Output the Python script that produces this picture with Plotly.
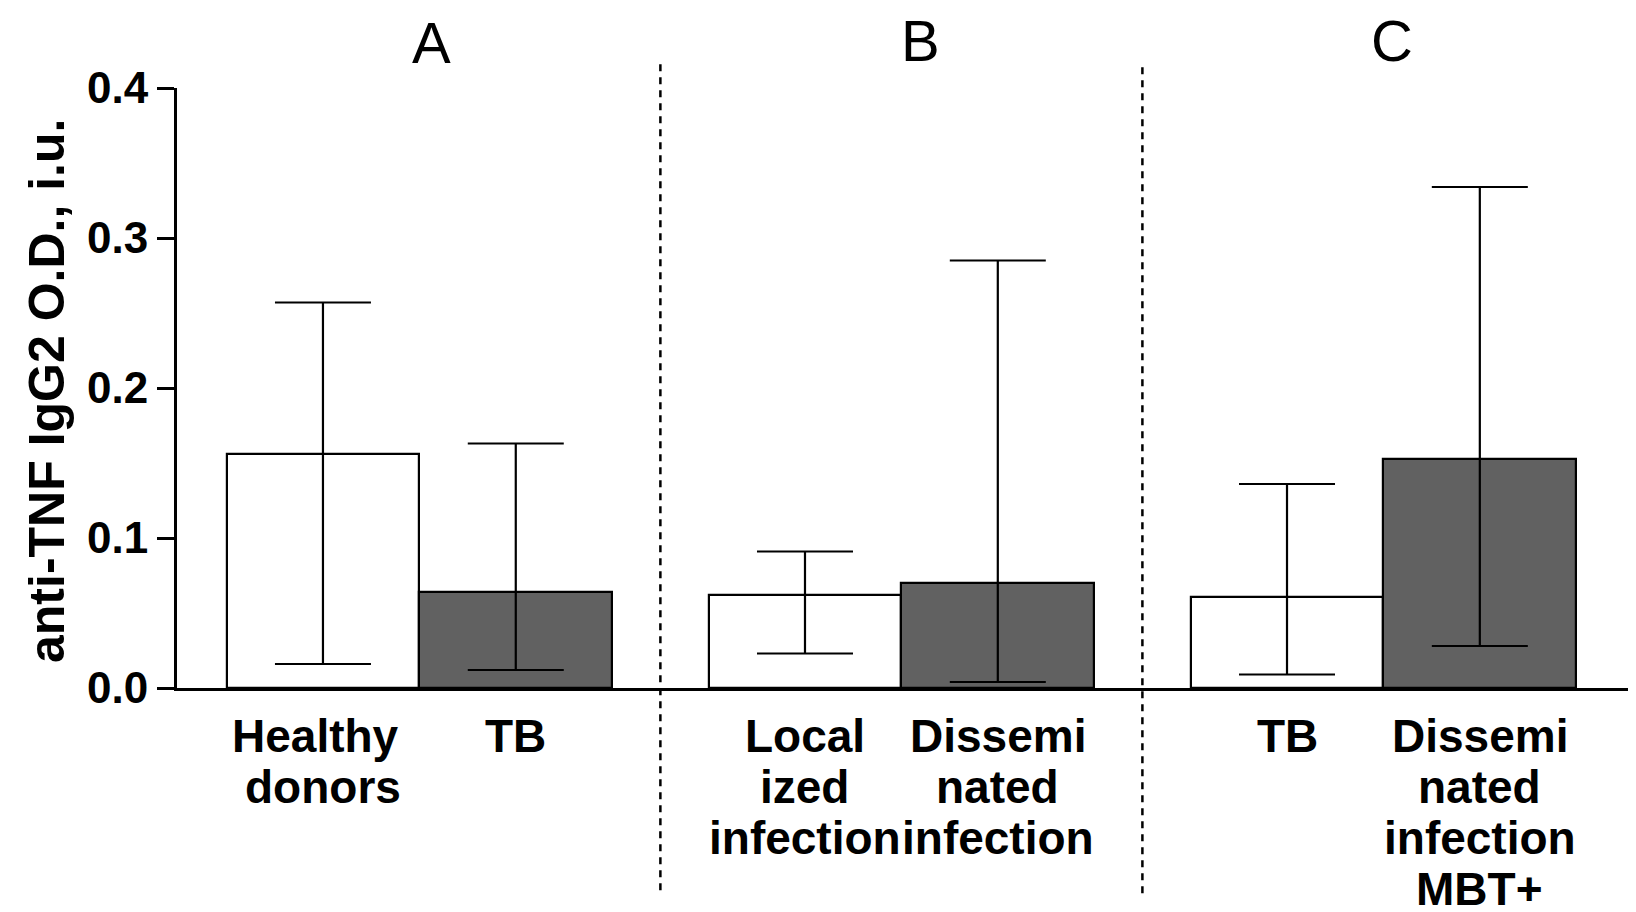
import plotly.graph_objects as go

# ---- data ----
categories = ["Healthy donors", "TB", "Localized infection", "Disseminated infection",
              "TB", "Disseminated infection MBT+"]
label_lines = [["Healthy", "donors"], ["TB"], ["Local", "ized", "infection"],
               ["Dissemi", "nated", "infection"], ["TB"],
               ["Dissemi", "nated", "infection", "MBT+"]]
group_of_bar = ["A", "A", "B", "B", "C", "C"]
means = [0.156, 0.064, 0.062, 0.070, 0.061, 0.153]
upper = [0.257, 0.163, 0.091, 0.285, 0.136, 0.334]
lower = [0.016, 0.012, 0.023, 0.004, 0.009, 0.028]
bar_kind = ["control", "case", "control", "case", "control", "case"]
panel_labels = ["A", "B", "C"]
y_ticks = [0.0, 0.1, 0.2, 0.3, 0.4]
y_title = "anti-TNF IgG2 O.D., i.u."

# ---- layout helpers ----
FONT = "Liberation Sans, Arial, Helvetica, sans-serif"
colors = {"control": "#ffffff", "case": "#616161"}

# bar positions: adjacent bars within a group, 1.5 bar-widths between groups
xpos = []
pos = 0.0
prev = None
for g in group_of_bar:
    if prev is not None:
        pos += 1.0 if g == prev else 1.5
    xpos.append(pos)
    prev = g

fig = go.Figure()
fig.add_trace(go.Bar(
    x=xpos, y=means, width=1.0,
    marker=dict(color=[colors[k] for k in bar_kind],
                line=dict(color="black", width=2.2)),
    error_y=dict(type="data", symmetric=False,
                 array=[u - m for u, m in zip(upper, means)],
                 arrayminus=[m - l for m, l in zip(means, lower)],
                 color="black", thickness=2.2, width=48),
    hovertext=categories, showlegend=False,
))

annotations = []
# category labels, line by line
for x, lines in zip(xpos, label_lines):
    for i, ln in enumerate(lines):
        annotations.append(dict(
            x=x, y=0, xref="x", yref="paper", xanchor="center", yanchor="middle",
            yshift=-48 - 51 * i, xshift=(-7 if ln == "Healthy" else 0),
            text="<b>%s</b>" % ln, showarrow=False,
            font=dict(family=FONT, size=46, color="black")))

# panel labels
panel_x = [0.565, 3.097, 5.545]
panel_shift = [46, 47.5, 47.5]
for lab, px, sh in zip(panel_labels, panel_x, panel_shift):
    annotations.append(dict(
        x=px, y=1, xref="x", yref="paper", xanchor="center", yanchor="middle",
        yshift=sh, text=lab, showarrow=False,
        font=dict(family=FONT, size=58, color="black")))

# y axis title
annotations.append(dict(
    x=0, y=0.495, xref="paper", yref="paper", xanchor="center", yanchor="middle",
    xshift=-130, text="<b>%s</b>" % y_title, textangle=-90, showarrow=False,
    font=dict(family=FONT, size=50, color="black")))

# dashed separators between groups
shapes = []
seps = [(xpos[i] + xpos[i + 1]) / 2 for i in range(len(xpos) - 1)
        if group_of_bar[i] != group_of_bar[i + 1]]
sep_ext = [(1.045, -0.337), (1.04, -0.342)]
for s, (y1, y0) in zip(seps, sep_ext):
    shapes.append(dict(type="line", xref="x", yref="paper", x0=s, x1=s,
                       y0=y0, y1=y1, line=dict(color="black", width=2.5, dash="7px,6px")))

fig.update_layout(
    width=1636, height=912,
    margin=dict(l=169, r=8, t=80, b=232),
    paper_bgcolor="white", plot_bgcolor="white",
    annotations=annotations, shapes=shapes,
    bargap=0,
)
fig.update_xaxes(range=[-0.757, 6.81], showline=True, linecolor="black", linewidth=3,
                 showticklabels=False, ticks="", showgrid=False, zeroline=False)
fig.update_yaxes(range=[0, 0.4], tickvals=y_ticks, tickformat=".1f",
                 showline=True, linecolor="black", linewidth=3,
                 ticks="outside", ticklen=17, tickwidth=3, tickcolor="black",
                 tickfont=dict(family=FONT, size=44, color="black", weight="bold"),
                 showgrid=False, zeroline=False)

fig.write_html("out.html")
